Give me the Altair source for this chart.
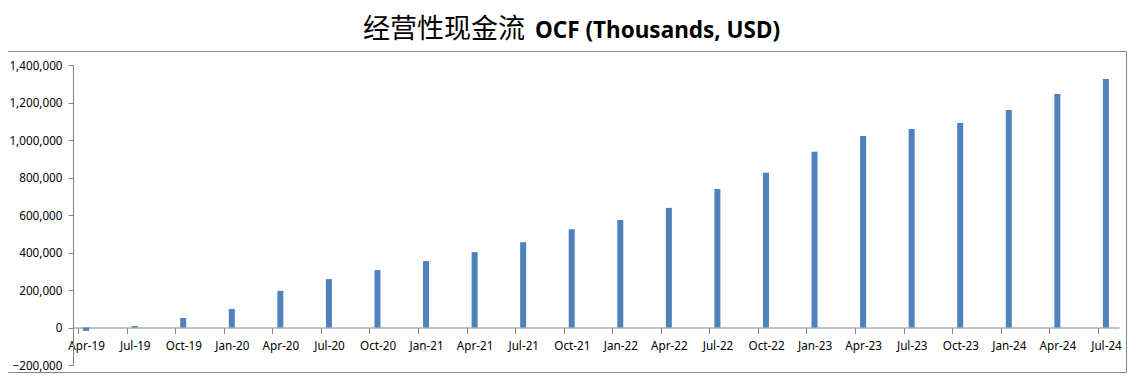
import altair as alt
import pandas as pd

# ---- data ----
quarters = ["Apr-19", "Jul-19", "Oct-19", "Jan-20", "Apr-20", "Jul-20", "Oct-20",
            "Jan-21", "Apr-21", "Jul-21", "Oct-21", "Jan-22", "Apr-22", "Jul-22",
            "Oct-22", "Jan-23", "Apr-23", "Jul-23", "Oct-23", "Jan-24", "Apr-24",
            "Jul-24"]
ocf = [-18000, 8000, 51000, 99000, 195000, 258000, 306000, 354000, 402000,
       455000, 524000, 574000, 638000, 739000, 825000, 937000, 1022000,
       1059000, 1091000, 1160000, 1246000, 1326000]
y_ticks = [-200000, 0, 200000, 400000, 600000, 800000, 1000000, 1200000, 1400000]
title_cn = "经营性现金流"
title_en = "OCF (Thousands, USD)"

# date axis with a monthly base unit, labelled every quarter
months_per_q = 3
n_months = (len(quarters) - 1) * months_per_q + 1
month_idx = [i * months_per_q for i in range(len(quarters))]

df = pd.DataFrame({
    "quarter": quarters,
    "mid": [m + 0.5 for m in month_idx],
    "ocf": ocf,
})
one = pd.DataFrame({"k": [0]})

W, H = 1046, 300
AX = "#868686"
label_arr = "[" + ",".join(f"'{q}'" for q in quarters) + "]"

bars = alt.Chart(df).mark_bar(size=6, color="#4F81BD").encode(
    x=alt.X("mid:Q",
            scale=alt.Scale(domain=[0, n_months], nice=False, zero=False),
            axis=alt.Axis(values=month_idx,
                          labelExpr=f"{label_arr}[round(datum.value / {months_per_q})]",
                          title=None, grid=False, offset=-37.5,
                          tickSize=6, labelPadding=7, labelOffset=W / n_months / 2,
                          labelOverlap=False, labelFlush=False, labelBound=False,
                          domainColor=AX, tickColor=AX, labelColor="#000000",
                          labelFont="Noto Sans", labelFontSize=11.7)),
    y=alt.Y("ocf:Q",
            scale=alt.Scale(domain=[y_ticks[0], y_ticks[-1]], nice=False),
            axis=alt.Axis(values=y_ticks, format=",.0f", title=None, grid=False,
                          tickSize=5, labelPadding=6,
                          domainColor=AX, tickColor=AX, labelColor="#000000",
                          labelFont="Noto Sans", labelFontSize=11.7)),
)

frame = alt.Chart(one).mark_rect(fillOpacity=0, stroke=AX, strokeWidth=1).encode(
    x=alt.value(-70), x2=alt.value(W + 7.5), y=alt.value(-13.5), y2=alt.value(H + 7.5)
)

t_cn = alt.Chart(one).mark_text(
    text=title_cn, font="Noto Sans CJK SC", fontSize=27, align="right",
    baseline="alphabetic", color="#000000"
).encode(x=alt.value(452), y=alt.value(-27))

t_en = alt.Chart(one).mark_text(
    text=title_en, font="Noto Sans", fontSize=22.5, fontWeight="bold", align="left",
    baseline="alphabetic", color="#000000"
).encode(x=alt.value(462), y=alt.value(-27))

chart = alt.layer(frame, bars, t_cn, t_en).properties(
    width=W, height=H,
    padding={"left": 65, "top": 57, "right": 8, "bottom": 8},
    autosize=alt.AutoSizeParams(type="none"),
    background="white",
).configure_view(strokeWidth=0)

chart.save("out.html", embed_options={"renderer": "svg", "actions": False})
